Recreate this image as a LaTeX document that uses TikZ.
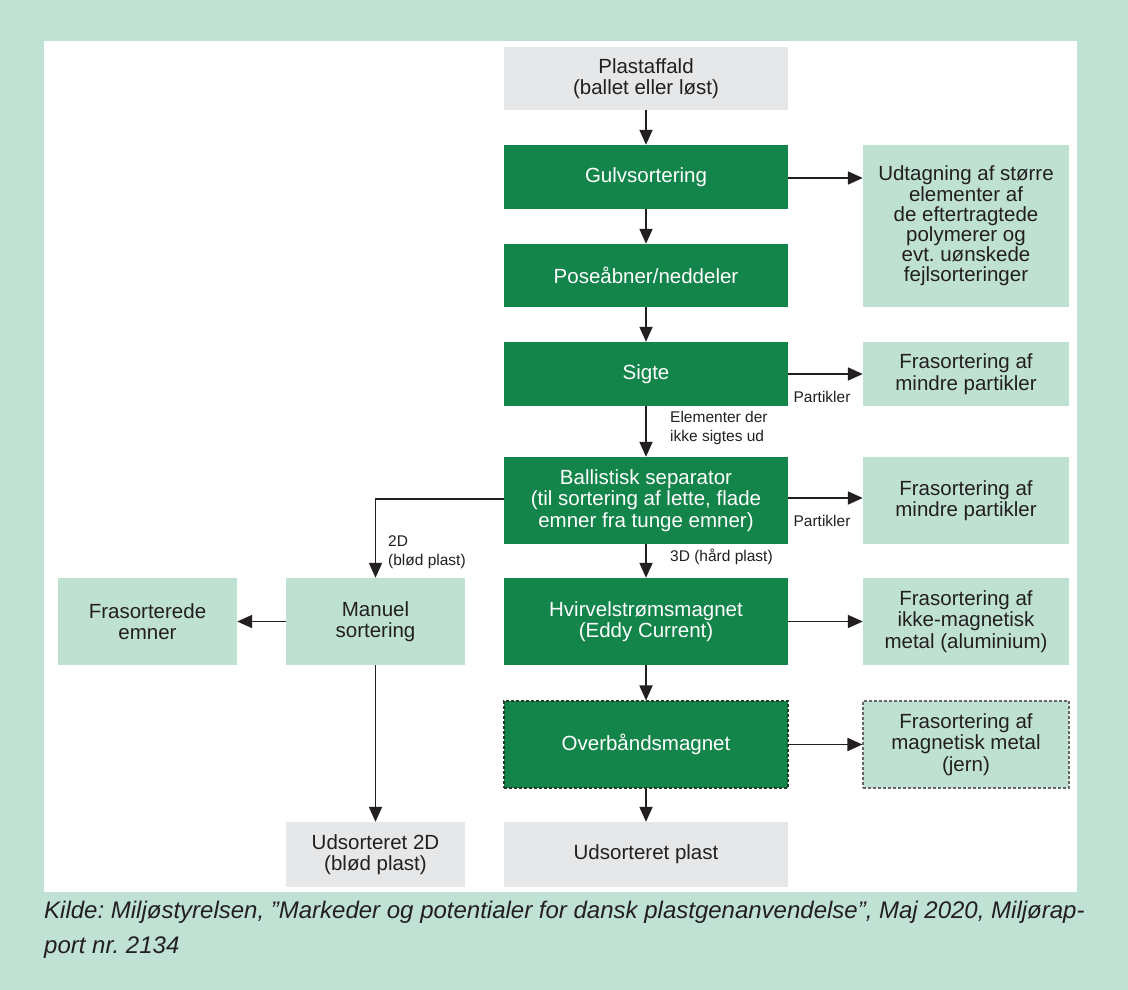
\documentclass[tikz,border=0pt]{standalone}
\usepackage{fontspec}
\setmainfont{Liberation Sans}
\usetikzlibrary{arrows.meta}
\definecolor{dkg}{RGB}{20,133,74}
\definecolor{ltg}{RGB}{190,225,210}
\definecolor{bgg}{RGB}{192,226,212}
\definecolor{gry}{RGB}{230,231,232}
\definecolor{ink}{RGB}{35,31,32}
\frenchspacing
\tikzset{
  base/.style={rectangle, inner sep=0pt, align=center, font=\fontsize{20.5}{21.5}\selectfont},
  darkbox/.style={base, fill=dkg, text=white, minimum width=284pt},
  lightbox/.style={base, fill=ltg, text=ink},
  graybox/.style={base, fill=gry, text=ink},
  arr/.style={draw=ink, line width=1.8pt, -{Triangle[length=15pt,width=13pt]}},
  lbl/.style={font=\fontsize{15.5}{19}\selectfont, text=ink, inner sep=0pt, align=left},
  dashb/.style={dash pattern=on 3pt off 2pt, line width=1.1pt}
}
\begin{document}
\begin{tikzpicture}[x=1pt,y=-1pt]
\useasboundingbox (0,0) rectangle (1128,990);
\fill[bgg] (0,0) rectangle (1128,990);
\fill[white] (44,41) rectangle (1077,892);
% central column
\node[graybox, minimum width=284pt, minimum height=63pt] (plast) at (646,78.5) {Plastaffald\\(ballet eller løst)};
\node[darkbox, minimum height=64pt] (gulv) at (646,177) {Gulvsortering};
\node[darkbox, minimum height=63pt] (pose) at (646,275.5) {Poseåbner/neddeler};
\node[darkbox, minimum height=64pt] (sigte) at (646,374) {Sigte};
\node[darkbox, minimum height=87pt] (ball) at (646,500.5) {Ballistisk separator\\(til sortering af lette, flade\\emner fra tunge emner)};
\node[darkbox, minimum height=87pt] (hvir) at (646,621.5) {Hvirvelstrømsmagnet\\(Eddy Current)};
\node[darkbox, minimum height=87pt, draw={rgb,255:red,30;green,60;blue,40}, dashb] (over) at (646,744.5) {Overbåndsmagnet};
\node[graybox, minimum width=284pt, minimum height=65pt] (udpl) at (646,854.5) {Udsorteret plast};
% right column
\node[lightbox, minimum width=206pt, minimum height=162pt, font=\fontsize{20.5}{20.2}\selectfont] (udt) at (966,226) {Udtagning af større\\elementer af\\de eftertragtede\\polymerer og\\evt. uønskede\\fejlsorteringer};
\node[lightbox, minimum width=206pt, minimum height=64pt] (fra1) at (966,374) {Frasortering af\\mindre partikler};
\node[lightbox, minimum width=206pt, minimum height=87pt] (fra2) at (966,500.5) {Frasortering af\\mindre partikler};
\node[lightbox, minimum width=206pt, minimum height=87pt] (fra3) at (966,621.5) {Frasortering af\\ikke-magnetisk\\metal (aluminium)};
\node[lightbox, minimum width=206pt, minimum height=87pt, draw=black!60, dashb] (fra4) at (966,744.5) {Frasortering af\\magnetisk metal\\(jern)};
% left columns
\node[lightbox, minimum width=179pt, minimum height=87pt] (man) at (375.5,621.5) {Manuel\\sortering};
\node[lightbox, minimum width=179pt, minimum height=87pt] (fraem) at (147.5,621.5) {Frasorterede\\emner};
\node[graybox, minimum width=179pt, minimum height=65pt] (ud2d) at (375.5,854.5) {Udsorteret 2D\\(blød plast)};
% vertical arrows
\draw[arr] (plast) -- (gulv);
\draw[arr] (gulv) -- (pose);
\draw[arr] (pose) -- (sigte);
\draw[arr] (sigte) -- (ball);
\draw[arr] (ball) -- (hvir);
\draw[arr] (hvir) -- (over);
\draw[arr] (over) -- (udpl);
% side arrows
\coordinate (g1) at (788,178);
\draw[arr] (g1) -- (g1 -| udt.west);
\draw[arr] (sigte.east) -- (fra1.west);
\coordinate (b1) at (788,498);
\draw[arr] (b1) -- (b1 -| fra2.west);
\draw[arr] (hvir.east) -- (fra3.west);
\draw[arr] (over.east) -- (fra4.west);
\coordinate (b2) at (504,499);
\draw[arr] (b2) -| (man.north);
\draw[arr] (man.west) -- (fraem.east);
\draw[arr] (man.south) -- (ud2d.north);
% labels
\node[lbl, anchor=center] (p1) at (822,397) {Partikler};
\node[lbl, anchor=center] (p2) at (822,521) {Partikler};
\node[lbl, anchor=west] (el) at (670,427.5) {Elementer der\\ikke sigtes ud};
\node[lbl, anchor=west] (d3) at (670,557) {3D (hård plast)};
\node[lbl, anchor=west] (d2) at (388,552) {2D\\(blød plast)};
% caption
\node[anchor=west, inner sep=0pt, align=left, text=ink, font=\fontsize{24}{35}\selectfont\itshape] (cap) at (44,929.5) {Kilde: Miljøstyrelsen, ”Markeder og potentialer for dansk plastgenanvendelse”, Maj 2020, Miljørap-\\port nr. 2134};
\end{tikzpicture}
\end{document}
